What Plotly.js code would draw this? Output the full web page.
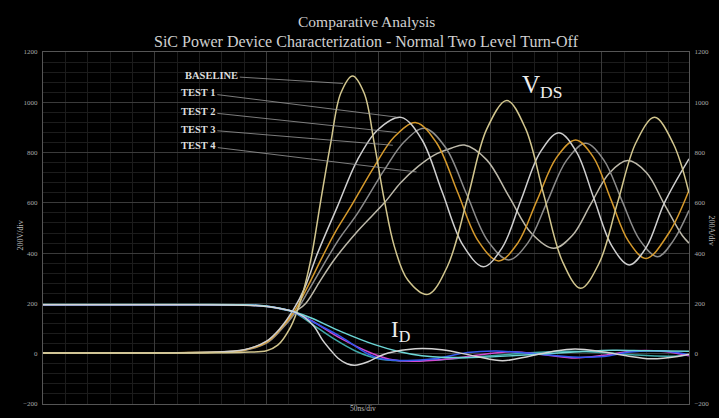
<!DOCTYPE html>
<html>
<head>
<meta charset="utf-8">
<script src="https://cdn.plot.ly/plotly-3.0.1.min.js"></script>
<style>html,body{margin:0;padding:0;background:#000;}#chart{width:719px;height:418px;}</style>
</head>
<body>
<div id="chart"></div>
<script>
// ---- V_DS waveforms (time in ns, value in V) ----
const tBase = [0, 60, 80, 90, 100, 105, 110.8, 115.3, 119.8, 124.3, 128.7, 133.2, 138.5, 143.7, 148.2, 152.7, 157.2, 163.2, 172.2, 181, 190, 198.5, 207.5, 215.8, 224, 232.3, 240.5, 248.8, 257, 265.3, 273.6, 282, 289];
const vBase = [3, 3, 4, 6, 12, 34, 107, 213, 373, 611, 837, 1036, 1105, 1036, 837, 611, 426, 293, 236, 349, 621, 893, 1007, 897, 633, 369, 260, 360, 600, 840, 940, 835, 640];

const tTest1 = [0, 60, 80, 90, 100, 106, 112, 117, 122.8, 131.7, 140.7, 149.7, 160.2, 169.4, 178.6, 187.8, 197, 205.5, 213.9, 222.4, 230.8, 238.7, 246.5, 254.4, 262.3, 270, 278, 289];
const vTest1 = [3, 4, 8, 16, 50, 100, 175, 260, 399, 585, 771, 890, 940, 853, 643, 433, 346, 423, 612, 801, 879, 802, 616, 430, 353, 425, 600, 775];

const tTest2 = [0, 60, 80, 90, 100, 106, 112.5, 118, 124.3, 130.5, 137.7, 148.2, 157.2, 166.9, 176.1, 185.4, 194.6, 203.8, 212.4, 221, 229.7, 238.3, 246.2, 254, 261.9, 269.8, 280, 289];
const vTest2 = [3, 4, 7, 14, 45, 95, 170, 260, 373, 480, 585, 744, 863, 919, 838, 644, 450, 369, 440, 610, 780, 850, 782, 615, 448, 379, 480, 650];

const tTest3 = [0, 60, 80, 90, 100, 106, 113, 119, 125, 132, 140.7, 152.7, 161.7, 170.7, 180.1, 189.5, 198.9, 208.3, 216.9, 225.6, 234.2, 242.8, 250.9, 258.9, 267, 275, 282, 289];
const vTest3 = [3, 4, 7, 13, 42, 90, 165, 255, 346, 450, 558, 731, 844, 897, 820, 635, 450, 373, 441, 605, 769, 837, 770, 611, 452, 386, 450, 570];

const tTest4 = [0, 60, 80, 90, 100, 106, 112, 117.5, 124, 130.2, 141, 152.7, 160, 167.7, 175, 182.6, 188.5, 198.5, 208.5, 218.5, 228.5, 236.8, 245, 253.3, 261.6, 270, 278, 286, 289];
const vTest4 = [3, 4, 8, 15, 48, 95, 160, 200, 290, 373, 490, 600, 680, 744, 790, 817, 830, 771, 625, 479, 419, 470, 594, 718, 768, 720, 594, 470, 440];

// ---- I_D waveforms (time in ns, value in A) ----
const tIdBase = [0, 60, 90, 100, 106, 112, 117, 121.3, 125, 128.7, 132, 136, 139.5, 145.4, 150, 154.4, 166.5, 178.5, 193.5, 205.6, 217.6, 228, 238, 250.8, 261, 271.8, 283.9, 289];
const iBase = [195, 195, 193, 188, 180, 168, 145, 108, 55, 14, -18, -40, -46, -32, -12, 3, 20, 16, -10, -28, -10, 9, 19, 7, -8, -20, -11, -2];

const tIdCyan = [0, 60, 90, 100, 106, 112.3, 120, 133.4, 148.4, 159, 169.5, 180, 195, 210, 225, 240, 255, 270, 289];
const iCyan = [196, 196, 195, 190, 181, 167, 142, 88, 36, 9, -8, -15, -14, -8, 0, 8, 14, 12, 10];

const tIdBlue = [0, 60, 90, 100, 106, 112, 120, 133.2, 145.2, 151.2, 163, 175, 190, 202.6, 220, 237, 250.8, 262.8, 277.9, 289];
const iBlue = [195, 195, 194, 189, 180, 167, 130, 68, 0, -20, -27, -20, 5, 11, 0, -13, -11, 7, 11, -4];

const tIdMag = [0, 60, 90, 100, 106, 112, 120, 133, 147, 155, 165, 180, 195, 210, 225, 238, 252, 265, 278, 289];
const iMag = [195, 195, 194, 189, 180, 167, 132, 62, 2, -22, -30, -22, -5, 8, -5, -17, -5, 12, 9, -8];

const tIdTeal = [0, 60, 90, 100, 106, 112, 120, 130, 140, 150, 160, 175, 190, 205, 220, 235, 250, 265, 280, 289];
const iTeal = [195, 195, 194, 188, 178, 166, 120, 60, 10, -20, -28, -25, -15, -5, 5, 10, 5, -5, -10, -5];

// ---- labels ----
const seriesNames = ["BASELINE", "TEST 1", "TEST 2", "TEST 3", "TEST 4"];
const labelPos = [[75.5, 1107], [69.5, 1040], [69.5, 964], [69.5, 893], [69.7, 829]];
const labelTip = [[134.2, 1075], [158.2, 941], [158.2, 880], [156.5, 829], [167.1, 723]];

const serif = "Liberation Serif, Times New Roman, serif";

function line(t, v, color, axis, name) {
  return {x: t, y: v, type: "scatter", mode: "lines", name: name, yaxis: axis,
    line: {color: color, width: 1.5, shape: "spline", smoothing: 1}, hoverinfo: "skip"};
}

const traces = [
  line(tIdTeal, iTeal, "#3fa9a9", "y2", "ID teal"),
  line(tIdMag, iMag, "#d048d0", "y2", "ID magenta"),
  line(tIdBlue, iBlue, "#3458f0", "y2", "ID blue"),
  line(tIdCyan, iCyan, "#6cd6d6", "y2", "ID cyan"),
  line(tIdBase, iBase, "#d4d4d4", "y2", "ID baseline"),
  line(tTest4, vTest4, "#bdb9aa", "y", "TEST 4"),
  line(tTest3, vTest3, "#8c8c8c", "y", "TEST 3"),
  line(tTest2, vTest2, "#d69a2c", "y", "TEST 2"),
  line(tTest1, vTest1, "#cfcfcf", "y", "TEST 1"),
  line(tBase, vBase, "#d2c68e", "y", "BASELINE")
];

const annotations = [];
seriesNames.forEach((n, i) => {
  annotations.push({
    x: labelTip[i][0], y: labelTip[i][1], xref: "x", yref: "y",
    ax: labelPos[i][0], ay: labelPos[i][1], axref: "x", ayref: "y",
    text: "<b>" + n + "</b>", showarrow: true, arrowhead: 0, arrowwidth: 0.8,
    arrowcolor: "#9a9a9a", standoff: 0, startstandoff: 0,
    font: {family: serif, size: 10.5, color: "#dddddd"}
  });
});
annotations.push(
  {x: 0.806, y: 0.953, xref: "paper", yref: "paper", text: "V<sub>DS</sub>", showarrow: false,
   font: {family: serif, size: 25, color: "#eeeeee"}},
  {x: 0.554, y: 0.162, xref: "paper", yref: "paper", text: "I<sub>D</sub>", showarrow: false,
   font: {family: serif, size: 23, color: "#eeeeee"}},
  {x: 0.5, y: 1.117, xref: "paper", yref: "paper", text: "Comparative Analysis", showarrow: false,
   font: {family: serif, size: 15.5, color: "#d0d0d0"}},
  {x: 0.5, y: 1.06, xref: "paper", yref: "paper", text: "SiC Power Device Characterization - Normal Two Level Turn-Off", showarrow: false,
   font: {family: serif, size: 16, color: "#d0d0d0"}},
  {x: -0.045, y: 0.48, xref: "paper", yref: "paper", text: "200V/div", textangle: -90, showarrow: false,
   font: {family: serif, size: 8, color: "#bbbbbb"}},
  {x: 1.045, y: 0.494, xref: "paper", yref: "paper", text: "200A/div", textangle: 90, showarrow: false,
   font: {family: serif, size: 8, color: "#bbbbbb"}},
  {x: 0.495, y: -0.032, xref: "paper", yref: "paper", text: "50ns/div", showarrow: false,
   font: {family: serif, size: 7.5, color: "#bbbbbb"}}
);

const tickFont = {family: serif, size: 7, color: "#a8a8a8"};
const layout = {
  width: 719, height: 418,
  paper_bgcolor: "#000", plot_bgcolor: "#000",
  margin: {l: 43, r: 30, t: 52, b: 14},
  showlegend: false,
  xaxis: {range: [0, 289], tick0: 0, dtick: 50, showticklabels: false, ticks: "",
    showgrid: true, gridcolor: "#3a3a3a", gridwidth: 1, zeroline: false,
    showline: true, linecolor: "#555", mirror: true,
    minor: {dtick: 10, showgrid: true, gridcolor: "#1c1c1c", gridwidth: 1}},
  yaxis: {range: [-200, 1200], tick0: 0, dtick: 200, tickfont: tickFont, ticks: "",
    showgrid: true, gridcolor: "#3a3a3a", gridwidth: 1, zeroline: false,
    showline: true, linecolor: "#555", mirror: true, ticklabelstandoff: 3,
    minor: {dtick: 40, showgrid: true, gridcolor: "#1c1c1c", gridwidth: 1}},
  yaxis2: {range: [-200, 1200], tick0: 0, dtick: 200, tickfont: tickFont, ticks: "",
    overlaying: "y", side: "right", showgrid: false, zeroline: false,
    showline: true, linecolor: "#555", ticklabelstandoff: 3},
  annotations: annotations
};

Plotly.newPlot("chart", traces, layout, {staticPlot: true, displayModeBar: false});
</script>
</body>
</html>
